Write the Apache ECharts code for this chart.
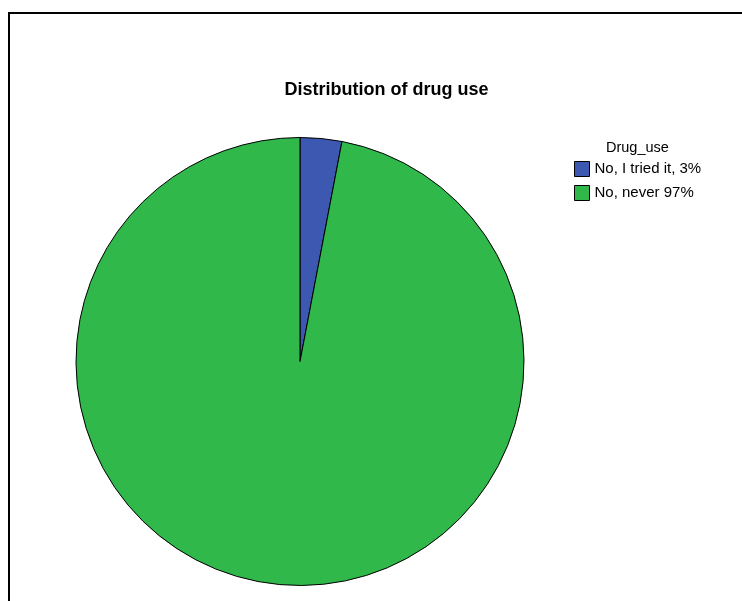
<!DOCTYPE html>
<html>
<head>
<meta charset="utf-8">
<style>
  html, body { margin: 0; padding: 0; background: #fff; }
  #chart { width: 742px; height: 601px; }
</style>
<script src="https://cdn.jsdelivr.net/npm/echarts@6/dist/echarts.min.js"></script>
</head>
<body>
<div id="chart"></div>
<script>
// Pie slices: answers and their shares (%)
const categories = ['No, I tried it, 3%', 'No, never 97%'];
const shares = [3, 97];
const sliceColors = ['#3c58b0', '#30b84b'];

const chart = echarts.init(document.getElementById('chart'), null, { renderer: 'canvas' });

chart.setOption({
  animation: false,
  backgroundColor: '#fff',
  title: {
    text: 'Distribution of drug use',
    left: 381.5,
    top: 76,
    textAlign: 'center',
    textStyle: { fontFamily: 'Liberation Sans, Arial', fontSize: 18, fontWeight: 'bold', color: '#000' }
  },
  legend: {
    orient: 'vertical',
    left: 574,
    top: 161,
    padding: 0,
    itemWidth: 15,
    itemHeight: 15,
    itemGap: 8,
    icon: 'rect',
    itemStyle: { borderColor: '#000', borderWidth: 1 },
    textStyle: { fontFamily: 'Liberation Sans, Arial', fontSize: 15, color: '#000' },
    data: categories
  },
  graphic: [
    {
      type: 'polyline',
      shape: { points: [[9, 601], [9, 13], [742, 13]] },
      style: { stroke: '#000', lineWidth: 2, fill: null }
    },
    {
      type: 'text',
      left: 606,
      top: 140,
      style: { text: 'Drug_use', font: '14.5px "Liberation Sans", Arial', fill: '#000' }
    }
  ],
  series: [{
    type: 'pie',
    center: [300, 361.5],
    radius: 224,
    startAngle: 90,
    clockwise: true,
    label: { show: false },
    labelLine: { show: false },
    emphasis: { disabled: true },
    itemStyle: { borderColor: '#000', borderWidth: 1 },
    data: categories.map((name, i) => ({ name, value: shares[i], itemStyle: { color: sliceColors[i] } }))
  }]
});
</script>
</body>
</html>
